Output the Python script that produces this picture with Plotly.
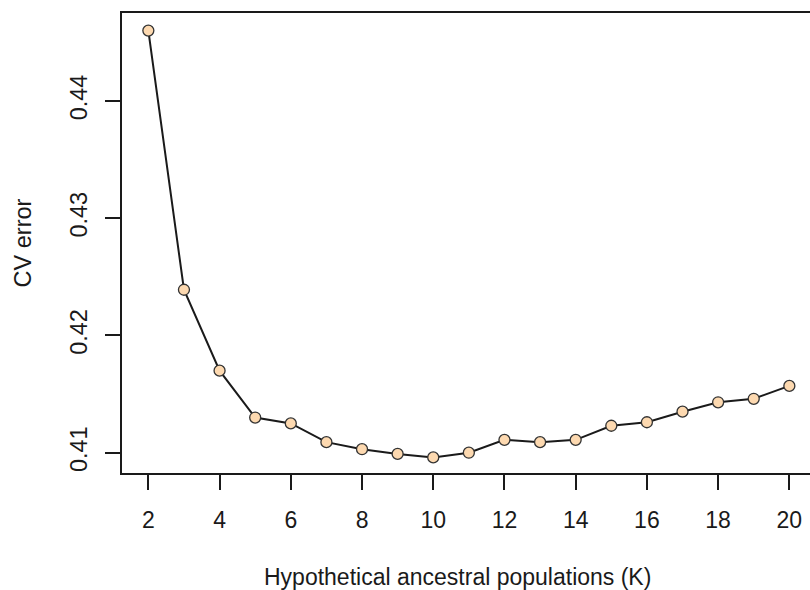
import plotly.graph_objects as go

# Cross-validation error for each number of ancestral populations K
k_values = list(range(2, 21))
cv_error = [0.4460, 0.4239, 0.4170, 0.4130, 0.4125, 0.4109, 0.4103, 0.4099,
            0.4096, 0.4100, 0.4111, 0.4109, 0.4111, 0.4123, 0.4126, 0.4135,
            0.4143, 0.4146, 0.4157]

x_ticks = list(range(2, 21, 2))
y_ticks = [0.41, 0.42, 0.43, 0.44]
y_tick_labels = ["0.41", "0.42", "0.43", "0.44"]
x_title = "Hypothetical ancestral populations (K)"
y_title = "CV error"

ink = "#1a1a1a"
narrow = "Liberation Sans Narrow, Arial Narrow, Liberation Sans, Arial, sans-serif"
regular = "Liberation Sans, Arial, sans-serif"

fig = go.Figure()
fig.add_trace(go.Scatter(
    x=k_values,
    y=cv_error,
    mode="lines+markers",
    line=dict(color=ink, width=2),
    marker=dict(symbol="circle", size=11, color="#FDD9B0",
                line=dict(color="#333333", width=1.3)),
    showlegend=False,
))

# x-axis title placed just below the tick labels
fig.add_annotation(
    text=x_title,
    xref="paper", yref="paper",
    x=0.487, y=-0.226,
    xanchor="center", yanchor="middle",
    showarrow=False,
    font=dict(family=narrow, size=23, color=ink),
)

fig.update_layout(
    width=810,
    height=590,
    margin=dict(l=122, r=0, t=13, b=117),
    paper_bgcolor="white",
    plot_bgcolor="white",
    font=dict(family=regular, size=22, color=ink),
    xaxis=dict(
        range=[1.26, 20.58],
        tickmode="array",
        tickvals=x_ticks,
        ticks="outside",
        ticklen=15,
        tickwidth=2,
        tickcolor=ink,
        tickfont=dict(family=narrow, size=23, color=ink),
        showline=True,
        linecolor=ink,
        linewidth=2,
        mirror=True,
        showgrid=False,
        zeroline=False,
        ticklabelstandoff=10,
    ),
    yaxis=dict(
        range=[0.40827, 0.4475],
        tickmode="array",
        tickvals=y_ticks,
        ticktext=y_tick_labels,
        tickangle=-90,
        ticks="outside",
        ticklen=15,
        tickwidth=2,
        tickcolor=ink,
        tickfont=dict(family=regular, size=23.5, color=ink),
        showline=True,
        linecolor=ink,
        linewidth=2,
        mirror=False,
        showgrid=False,
        zeroline=False,
        ticklabelstandoff=9,
        title=dict(text=y_title,
                   font=dict(family=regular, size=23.5, color=ink),
                   standoff=27),
    ),
)

fig.write_html("out.html")
